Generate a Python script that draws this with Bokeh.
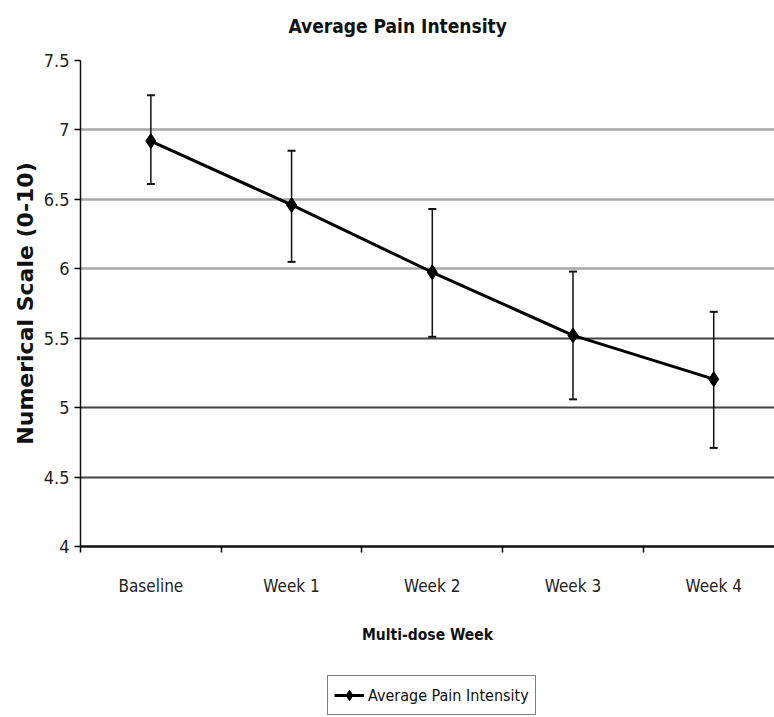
from bokeh.plotting import figure
from bokeh.layouts import column
from bokeh.models import (Range1d, FixedTicker, Whisker, TeeHead, ColumnDataSource,
                          Legend, LegendItem, Grid, Title)
from bokeh.embed import file_html
from bokeh.resources import INLINE

# ---- data ----
categories = ["Baseline", "Week 1", "Week 2", "Week 3", "Week 4"]
pain_mean = [6.92, 6.46, 5.975, 5.52, 5.205]
pain_upper = [7.25, 6.85, 6.43, 5.98, 5.69]
pain_lower = [6.61, 6.05, 5.51, 5.06, 4.71]
y_ticks = [4.0, 4.5, 5.0, 5.5, 6.0, 6.5, 7.0, 7.5]
y_tick_labels = ["4", "4.5", "5", "5.5", "6", "6.5", "7", "7.5"]
light_grid_ticks = [6.0, 6.5, 7.0, 7.5]
dark_grid_ticks = [4.5, 5.0, 5.5]
chart_title = "Average Pain Intensity"
series_name = "Average Pain Intensity"

NARROW = "DejaVu Sans Condensed, Roboto, sans-serif"

xpos = list(range(len(categories)))
bounds = [i - 0.5 for i in range(len(categories))]

src = ColumnDataSource(dict(x=xpos, y=pain_mean, upper=pain_upper, lower=pain_lower))

p = figure(width=774, height=660, title=None,
           x_range=Range1d(-0.5, 4.432), y_range=Range1d(4, 7.5),
           output_backend="svg", toolbar_location=None,
           min_border_left=80, min_border_right=0, min_border_top=60, min_border_bottom=114)

p.outline_line_color = None
p.background_fill_color = "white"
p.border_fill_color = "white"

# title (a thin spacer keeps it clear of the plot area)
spacer = Title(text=" ", text_font_size="1px", standoff=21)
main_title = Title(text=chart_title, align="left", offset=208, standoff=0,
                   text_font=NARROW, text_font_size="19px", text_font_style="bold",
                   text_color="#111111")
p.add_layout(spacer, "above")
p.add_layout(main_title, "above")

# grids
p.xgrid.visible = False
p.ygrid.visible = False
g1 = Grid(dimension=1, ticker=FixedTicker(ticks=light_grid_ticks),
          grid_line_color="#a8a8a8", grid_line_width=2.5)
g2 = Grid(dimension=1, ticker=FixedTicker(ticks=dark_grid_ticks),
          grid_line_color="#444444", grid_line_width=2)
p.add_layout(g1)
p.add_layout(g2)

# x axis
xa = p.xaxis[0]
xa.ticker = FixedTicker(ticks=xpos, minor_ticks=bounds)
xa.major_label_overrides = {i: c for i, c in zip(xpos, categories)}
xa.major_tick_out = 0
xa.major_tick_in = 0
xa.minor_tick_out = 6
xa.minor_tick_in = 0
xa.minor_tick_line_color = "black"
xa.minor_tick_line_width = 1.5
xa.axis_line_color = "#111111"
xa.axis_line_width = 2.5
xa.major_label_text_font = NARROW
xa.major_label_text_font_size = "17px"
xa.major_label_text_color = "#222222"
xa.major_label_standoff = 23
xa.axis_label = "Multi-dose Week"
xa.axis_label_text_font = NARROW
xa.axis_label_text_font_size = "15.5px"
xa.axis_label_text_font_style = "bold"
xa.axis_label_text_color = "#111111"
xa.axis_label_standoff = 27

# y axis
ya = p.yaxis[0]
ya.ticker = FixedTicker(ticks=y_ticks)
ya.major_label_overrides = {t: l for t, l in zip(y_ticks, y_tick_labels)}
ya.major_tick_out = 6
ya.major_tick_in = 0
ya.major_tick_line_color = "black"
ya.major_tick_line_width = 1.5
ya.minor_tick_out = 0
ya.minor_tick_in = 0
ya.axis_line_color = "#111111"
ya.axis_line_width = 1.5
ya.major_label_text_font = NARROW
ya.major_label_text_font_size = "18px"
ya.major_label_text_color = "#222222"
ya.major_label_standoff = 5
ya.axis_label = "Numerical Scale (0-10)"
ya.axis_label_text_font = "DejaVu Sans"
ya.axis_label_text_font_size = "22px"
ya.axis_label_text_font_style = "bold"
ya.axis_label_text_color = "#111111"
ya.axis_label_standoff = 3

# error bars
wh = Whisker(base="x", upper="upper", lower="lower", source=src,
             line_color="#111111", line_width=1.5,
             upper_head=TeeHead(size=8, line_width=2, line_color="#111111"),
             lower_head=TeeHead(size=8, line_width=2, line_color="#111111"))
p.add_layout(wh)

line_style = dict(line_color="black", line_width=3)
marker_style = dict(marker="diamond", size=15, fill_color="black", line_color="black")

p.line("x", "y", source=src, **line_style)
p.scatter("x", "y", source=src, **marker_style)

# legend strip below the chart (its renderers reuse the data, kept out of view)
p2 = figure(width=774, height=57, output_backend="svg", toolbar_location=None,
            x_axis_type=None, y_axis_type=None,
            x_range=Range1d(100, 101), y_range=Range1d(100, 101),
            min_border_left=0, min_border_right=0, min_border_top=0, min_border_bottom=0)
p2.outline_line_color = None
p2.xgrid.visible = False
p2.ygrid.visible = False
lr2 = p2.line("x", "y", source=src, **line_style)
sr2 = p2.scatter("x", "y", source=src, **marker_style)
legend = Legend(items=[LegendItem(label=series_name, renderers=[lr2, sr2])],
                location=(247, 2), orientation="horizontal",
                border_line_color="black", border_line_width=1.2,
                label_text_font=NARROW, label_text_font_size="16px",
                label_text_color="#111111",
                glyph_width=30, glyph_height=26, label_standoff=4, padding=6, margin=0,
                background_fill_alpha=1.0)
p2.add_layout(legend)

open("out.html", "w").write(file_html(column(p, p2, spacing=0), INLINE))
